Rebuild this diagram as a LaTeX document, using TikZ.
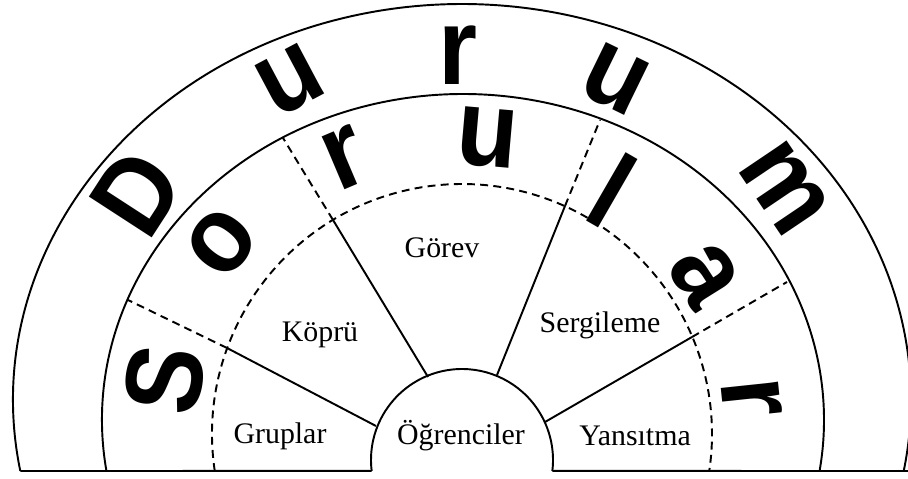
\documentclass[tikz,border=0pt]{standalone}
\usepackage{fontspec}
\setmainfont{Liberation Serif}
\newfontfamily\letterfont{Liberation Sans}

\begin{document}
\begin{tikzpicture}[x=0.02cm,y=0.02cm,line width=1.1pt,
  every node/.style={font=\fontsize{17}{20}\selectfont},
  dashline/.style={dash pattern=on 4.5pt off 3pt},
  bigletter/.style={font=\letterfont\bfseries\fontsize{62}{62}\selectfont,inner sep=0pt,xscale=0.92}]
  \useasboundingbox (0,0) rectangle (908,479);
  \clip (0,0) rectangle (908,479);

  % centres of the rings
  \coordinate (oc) at (462,79);
  \coordinate (mc) at (463,59);
  \coordinate (dc) at (462,45);
  \coordinate (ic) at (462,19);
  \coordinate (edge) at (908,8);

  % ends of the rings on the ground line
  \coordinate (oL) at ([shift={(190.33:449 and 396)}]oc);
  \coordinate (mL) at ([shift={(189:361 and 326)}]mc);
  \coordinate (dL) at ([shift={(188.5:250)}]dc);
  \coordinate (iL) at ([shift={(186.9:91)}]ic);
  \coordinate (iR) at ([shift={(-6.9:91)}]ic);

  \draw (oL) arc[start angle=190.33,end angle=-10.33,x radius=449,y radius=396];
  \draw (mL) arc[start angle=189,end angle=-9,x radius=361,y radius=326];
  \draw[dashline] (dL) arc[start angle=188.5,end angle=-8.5,radius=250];
  \draw (iL) arc[start angle=186.9,end angle=-6.9,radius=91];
  \draw (oL) -- (iL);
  \draw (iR) -- (edge);

  % spokes
  \coordinate (s1a) at (376,53);  \coordinate (s1b) at (227,131); \coordinate (s1c) at (128,179);
  \coordinate (s2a) at (428,102); \coordinate (s2b) at (333,259); \coordinate (s2c) at (283,341);
  \coordinate (s3a) at (497,104); \coordinate (s3b) at (565,273); \coordinate (s3c) at (600,359);
  \coordinate (s4a) at (545,57);  \coordinate (s4b) at (692,142); \coordinate (s4c) at (787,197);
  \foreach \s in {s1,s2,s3,s4} {
    \draw (\s a) -- (\s b);
    \draw[dashline] (\s b) -- (\s c);
  }

  % labels
  \node[anchor=base] (gruplar) at (280,35) {Gruplar};
  \node[anchor=base] (ogrenci) at (461,34) {Öğrenciler};
  \node[anchor=base] (yansitma) at (635,33) {Yansıtma};
  \node[anchor=base] (kopru) at (320,137) {Köprü};
  \node[anchor=base] (gorev) at (442,221) {Görev};
  \node[anchor=base] (sergi) at (600,146) {Sergileme};

  % the words round the rings
  \foreach \c/\x/\y/\r [count=\i] in {D/137/286/57,u/290/399/28,r/458/424/0,u/615/399/-26,m/785/291/-56}
    \node[rotate=\r,bigletter] (durum\i) at (\x,\y) {\c};
  \foreach \c/\x/\y/\r [count=\i] in {S/165/99/81,o/222/236/52,r/345/321/23,u/487/341/-5,l/612/289/-30,a/705/204/-58,r/752/81/-84}
    \node[rotate=\r,bigletter] (soru\i) at (\x,\y) {\c};
\end{tikzpicture}
\end{document}
